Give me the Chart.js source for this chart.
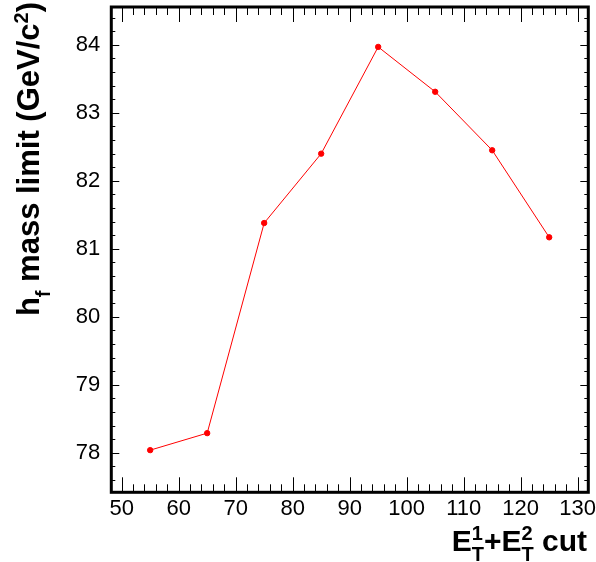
<!DOCTYPE html>
<html>
<head>
<meta charset="utf-8">
<script src="https://cdn.jsdelivr.net/npm/chart.js@4.4.1/dist/chart.umd.min.js"></script>
<style>
  html, body { margin: 0; padding: 0; background: #fff; }
  canvas { display: block; }
</style>
</head>
<body>
<canvas id="limitChart" width="596" height="562"></canvas>
<script>
const cutValues = [55, 65, 75, 85, 95, 105, 115, 125];
const massLimits = [78.04, 78.29, 81.38, 82.40, 83.97, 83.31, 82.45, 81.17];
const xTicks = [50, 60, 70, 80, 90, 100, 110, 120, 130];
const yTicks = [78, 79, 80, 81, 82, 83, 84];

const FONT = "'Liberation Sans', Arial, Helvetica, sans-serif";

// draws a title made of pieces, some of them sub/superscripts (stacked when both)
function richText(ctx, parts, size) {
  const small = Math.round(size * 0.66);
  let w = 0;
  const items = parts.map(p => {
    if (p.t !== undefined) {
      ctx.font = `bold ${size}px ${FONT}`;
      const pw = ctx.measureText(p.t).width;
      const it = { kind: 'text', t: p.t, x: w, w: pw };
      w += pw;
      return it;
    }
    ctx.font = `bold ${small}px ${FONT}`;
    const a = p.sub ? ctx.measureText(p.sub).width : 0;
    const b = p.sup ? ctx.measureText(p.sup).width : 0;
    const it = { kind: 'script', sub: p.sub, sup: p.sup, x: w, w: Math.max(a, b) };
    w += it.w;
    return it;
  });
  return {
    width: w,
    draw(x0, y0) {
      items.forEach(it => {
        if (it.kind === 'text') {
          ctx.font = `bold ${size}px ${FONT}`;
          ctx.fillText(it.t, x0 + it.x, y0);
        } else {
          ctx.font = `bold ${small}px ${FONT}`;
          if (it.sub) ctx.fillText(it.sub, x0 + it.x, y0 + size * 0.34);
          if (it.sup) ctx.fillText(it.sup, x0 + it.x, y0 - size * 0.36);
        }
      });
    }
  };
}

const framePlugin = {
  id: 'frame',
  afterDraw(chart) {
    const { ctx, chartArea: a, scales } = chart;
    const sx = scales.x, sy = scales.y;
    ctx.save();
    ctx.strokeStyle = '#000';
    ctx.lineWidth = 1;
    ctx.beginPath();
    // x ticks on bottom and top, minor every 2
    for (let v = 50; v <= 130; v += 2) {
      const px = Math.round(sx.getPixelForValue(v)) + 0.5;
      const len = v % 10 === 0 ? 15 : 8;
      ctx.moveTo(px, a.bottom); ctx.lineTo(px, a.bottom - len);
      ctx.moveTo(px, a.top); ctx.lineTo(px, a.top + len);
    }
    // y ticks on left and right, minor every 0.2
    for (let i = 0; i <= 40; i++) {
      const v = 77.6 + i * 0.2;
      if (v < sy.min || v > sy.max) continue;
      const py = Math.round(sy.getPixelForValue(v)) + 0.5;
      const major = Math.abs(v - Math.round(v)) < 1e-6;
      const len = major ? 8 : 4;
      ctx.moveTo(a.left, py); ctx.lineTo(a.left + len, py);
      ctx.moveTo(a.right, py); ctx.lineTo(a.right - len, py);
    }
    ctx.stroke();

    ctx.lineWidth = 3;
    ctx.strokeRect(a.left, a.top, a.right - a.left, a.bottom - a.top);

    // axis titles
    ctx.fillStyle = '#000';
    ctx.textBaseline = 'alphabetic';
    ctx.textAlign = 'left';
    const xt = richText(ctx, [{ t: 'E' }, { sub: 'T', sup: '1' }, { t: '+E' }, { sub: 'T', sup: '2' }, { t: ' cut' }], 30);
    xt.draw(587 - xt.width, 551);

    const yt = richText(ctx, [{ t: 'h' }, { sub: 'f' }, { t: ' mass limit (GeV/c' }, { sup: '2' }, { t: ')' }], 31);
    ctx.translate(39, 2 + yt.width);
    ctx.rotate(-Math.PI / 2);
    yt.draw(0, 0);
    ctx.restore();
  }
};

new Chart(document.getElementById('limitChart'), {
  type: 'scatter',
  data: {
    datasets: [{
      data: cutValues.map((c, i) => ({ x: c, y: massLimits[i] })),
      showLine: true,
      borderColor: '#ff0000',
      backgroundColor: '#ff0000',
      borderWidth: 1,
      pointRadius: 2.7,
      pointHoverRadius: 2.7
    }]
  },
  options: {
    responsive: false,
    animation: false,
    layout: { padding: { top: 7, right: 7.7, left: 0, bottom: 0 } },
    plugins: { legend: { display: false }, tooltip: { enabled: false } },
    scales: {
      x: {
        type: 'linear',
        min: 48.18,
        max: 131.86,
        grid: { display: false, drawTicks: false },
        border: { display: false },
        afterBuildTicks: s => { s.ticks = xTicks.map(v => ({ value: v })); },
        afterFit: s => {
          s.height = 69.7;
          s.paddingLeft = 0; s.paddingRight = 0;
        },
        ticks: {
          color: '#000',
          padding: 3,
          maxRotation: 0,
          autoSkip: false,
          font: { family: FONT, size: 22 }
        }
      },
      y: {
        type: 'linear',
        min: 77.42,
        max: 84.557,
        grid: { display: false, drawTicks: false },
        border: { display: false },
        afterBuildTicks: s => { s.ticks = yTicks.map(v => ({ value: v })); },
        afterFit: s => {
          s.width = 111.3;
          s.paddingTop = 0; s.paddingBottom = 0;
        },
        ticks: {
          color: '#000',
          padding: 11,
          font: { family: FONT, size: 22 },
          callback: v => String(v)
        }
      }
    }
  },
  plugins: [framePlugin]
});
</script>
</body>
</html>
